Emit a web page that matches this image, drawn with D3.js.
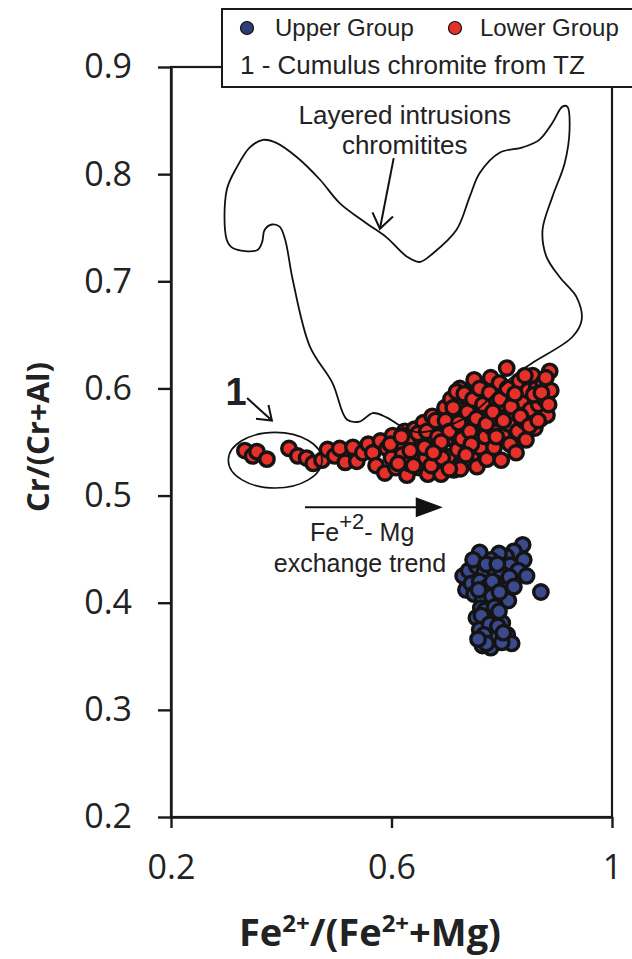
<!DOCTYPE html>
<html>
<head>
<meta charset="utf-8">
<script src="https://cdn.jsdelivr.net/npm/d3@7"></script>
<style>
  body { margin: 0; background: #fff; }
  svg { display: block; }
</style>
</head>
<body>
<div id="chart"></div>
<script>
// Lower Group (red) chromite analyses: [Fe2+/(Fe2++Mg), Cr/(Cr+Al)]
var lowerGroup = [
  [0.334,0.542],[0.348,0.537],[0.356,0.541],[0.374,0.534],
  [0.414,0.544],[0.430,0.537],[0.446,0.535],[0.458,0.530],[0.474,0.533],[0.484,0.543],
  [0.497,0.537],[0.506,0.544],[0.516,0.531],[0.530,0.545],[0.537,0.532],[0.548,0.540],
  [0.558,0.548],[0.566,0.540],[0.572,0.528],[0.580,0.551],
  [0.588,0.521],[0.592,0.544],[0.600,0.535],[0.602,0.556],[0.608,0.526],[0.615,0.547],
  [0.620,0.538],[0.624,0.560],[0.628,0.519],[0.632,0.530],[0.636,0.550],[0.642,0.562],
  [0.645,0.540],[0.650,0.526],[0.654,0.553],[0.658,0.568],[0.662,0.535],[0.666,0.520],
  [0.670,0.548],[0.674,0.574],[0.678,0.560],[0.682,0.530],[0.686,0.543],[0.690,0.520],
  [0.694,0.566],[0.697,0.582],[0.700,0.553],[0.703,0.536],
  [0.708,0.590],[0.710,0.572],[0.713,0.524],[0.716,0.558],[0.720,0.543],[0.724,0.600],
  [0.727,0.580],[0.730,0.530],[0.733,0.565],[0.736,0.550],[0.740,0.590],[0.743,0.574],
  [0.746,0.538],[0.750,0.608],[0.752,0.558],[0.755,0.527],[0.758,0.583],[0.761,0.545],
  [0.764,0.568],[0.768,0.597],[0.770,0.555],[0.773,0.534],[0.776,0.580],[0.780,0.610],
  [0.783,0.563],[0.786,0.545],[0.789,0.590],[0.792,0.572],[0.796,0.605],[0.799,0.533],
  [0.802,0.556],[0.806,0.585],[0.809,0.619],[0.812,0.567],[0.815,0.548],[0.818,0.598],
  [0.822,0.578],[0.826,0.540],[0.829,0.560],[0.832,0.607],[0.836,0.588],[0.840,0.570],
  [0.844,0.552],[0.848,0.598],[0.852,0.580],[0.856,0.612],[0.860,0.563],[0.863,0.600],
  [0.867,0.585],[0.871,0.572],[0.875,0.605],[0.878,0.590],[0.882,0.575],[0.887,0.616],
  [0.889,0.598],
  [0.598,0.548],[0.612,0.530],[0.618,0.555],[0.634,0.542],[0.640,0.528],[0.648,0.558],
  [0.660,0.545],[0.664,0.560],[0.672,0.528],[0.680,0.570],[0.684,0.555],[0.692,0.535],
  [0.698,0.570],[0.705,0.560],[0.712,0.582],[0.718,0.597],[0.722,0.568],[0.728,0.553],
  [0.732,0.595],[0.738,0.578],[0.742,0.560],[0.748,0.590],[0.754,0.572],[0.760,0.600],
  [0.766,0.585],[0.772,0.567],[0.778,0.596],[0.784,0.578],[0.790,0.555],[0.797,0.590],
  [0.803,0.570],[0.810,0.600],[0.817,0.583],[0.824,0.595],[0.834,0.574],[0.842,0.612],
  [0.850,0.565],[0.858,0.594],[0.866,0.570],[0.872,0.596],[0.880,0.610],[0.885,0.585],
  [0.745,0.548],[0.735,0.538],[0.725,0.525],[0.705,0.525],[0.690,0.550],[0.676,0.540]
];

// Upper Group (blue) chromite analyses
var upperGroup = [
  [0.838,0.454],[0.822,0.448],[0.808,0.443],[0.795,0.446],[0.780,0.440],[0.760,0.447],
  [0.840,0.440],[0.815,0.435],[0.830,0.430],[0.845,0.425],[0.730,0.425],[0.740,0.430],
  [0.755,0.434],[0.768,0.428],[0.785,0.432],[0.800,0.427],[0.814,0.424],[0.735,0.412],
  [0.745,0.418],[0.760,0.420],[0.775,0.415],[0.790,0.418],[0.805,0.412],[0.822,0.415],
  [0.750,0.408],[0.765,0.404],[0.782,0.406],[0.798,0.400],[0.812,0.402],[0.871,0.410],
  [0.762,0.395],[0.778,0.392],[0.792,0.388],[0.754,0.386],[0.770,0.382],[0.801,0.381],
  [0.785,0.375],[0.760,0.375],[0.775,0.368],[0.791,0.368],[0.810,0.370],[0.818,0.362],
  [0.765,0.360],[0.780,0.358],[0.800,0.363],
  [0.748,0.440],[0.772,0.436],[0.792,0.436],[0.758,0.412],[0.783,0.420],[0.796,0.410],
  [0.770,0.393],[0.787,0.396],[0.763,0.388],[0.795,0.392],[0.778,0.380],[0.793,0.378],
  [0.768,0.370],[0.803,0.372],[0.772,0.362],[0.757,0.366]
];

// outline of the layered-intrusion chromitite field
var layeredField = [
  [0.452,0.639],[0.421,0.701],[0.407,0.739],[0.397,0.751],[0.383,0.753],[0.370,0.748],
  [0.365,0.736],[0.356,0.729],[0.312,0.731],[0.301,0.739],[0.301,0.785],[0.320,0.807],
  [0.343,0.825],[0.367,0.832],[0.392,0.829],[0.428,0.816],[0.470,0.795],[0.506,0.773],
  [0.555,0.754],[0.591,0.741],[0.628,0.723],[0.651,0.718],[0.675,0.726],[0.718,0.748],
  [0.742,0.779],[0.760,0.801],[0.796,0.820],[0.838,0.825],[0.868,0.832],[0.892,0.848],
  [0.910,0.863],[0.919,0.863],[0.923,0.841],[0.914,0.810],[0.892,0.779],[0.874,0.748],
  [0.881,0.723],[0.905,0.704],[0.936,0.685],[0.945,0.664],[0.928,0.648],[0.856,0.624],
  [0.820,0.611],[0.736,0.573],[0.651,0.559],[0.620,0.564],[0.591,0.573],[0.566,0.577],
  [0.542,0.569],[0.519,0.571],[0.493,0.605]
];

var xTicks = [0.2, 0.6, 1];
var yTicks = [0.2, 0.3, 0.4, 0.5, 0.6, 0.7, 0.8, 0.9];

var W = 632, H = 959;
var svg = d3.select("#chart").append("svg").attr("width", W).attr("height", H);
svg.append("rect").attr("width", W).attr("height", H).attr("fill", "#fff");

// scales
var x = d3.scaleLinear().domain([0.2, 1]).range([171, 612]);
var y = d3.scaleLinear().domain([0.2, 0.9]).range([817, 67]);

var tickFont = "'Open Sans', sans-serif";
var textFont = "'Liberation Sans', Arial, sans-serif";

// plot frame (right and top sides)
svg.append("rect")
  .attr("x", x(0.2)).attr("y", y(0.9))
  .attr("width", x(1) - x(0.2)).attr("height", y(0.2) - y(0.9))
  .attr("fill", "none").attr("stroke", "#1a1a1a").attr("stroke-width", 2.2);

// axes
var yAxis = d3.axisLeft(y).tickValues(yTicks).tickFormat(d3.format(".1f"))
  .tickSize(13).tickSizeOuter(0).tickPadding(26);
var xAxis = d3.axisBottom(x).tickValues(xTicks).tickFormat(d3.format("~g"))
  .tickSize(11).tickSizeOuter(0).tickPadding(27);

var gy = svg.append("g").attr("transform", "translate(" + x(0.2) + ",0)").call(yAxis);
var gx = svg.append("g").attr("transform", "translate(0," + y(0.2) + ")").call(xAxis);
[gx, gy].forEach(function (g) {
  g.select(".domain").attr("stroke", "#1a1a1a").attr("stroke-width", 2.4);
  g.selectAll(".tick line").attr("stroke", "#1a1a1a").attr("stroke-width", 2.4);
  g.selectAll(".tick text").attr("fill", "#222").style("font-family", tickFont).style("font-size", "34px");
});

// axis titles
svg.append("text")
  .attr("transform", "translate(49,437) rotate(-90)")
  .attr("text-anchor", "middle")
  .style("font-family", tickFont).style("font-size", "31px").style("font-weight", "bold")
  .attr("fill", "#222")
  .text("Cr/(Cr+Al)");

var xt = svg.append("text")
  .attr("x", 370).attr("y", 946)
  .attr("text-anchor", "middle")
  .style("font-family", tickFont).style("font-size", "38px").style("font-weight", "bold")
  .attr("fill", "#222");
xt.append("tspan").text("Fe");
xt.append("tspan").attr("dy", -14).style("font-size", "24px").text("2+");
xt.append("tspan").attr("dy", 14).text("/(Fe");
xt.append("tspan").attr("dy", -14).style("font-size", "24px").text("2+");
xt.append("tspan").attr("dy", 14).text("+Mg)");

// data points
function drawPoints(data, fill) {
  svg.append("g").selectAll("circle")
    .data(data)
    .enter()
    .append("circle")
    .attr("cx", function (d) { return x(d[0]); })
    .attr("cy", function (d) { return y(d[1]); })
    .attr("r", 7.2)
    .attr("fill", fill)
    .attr("stroke", "#141414")
    .attr("stroke-width", 3.4);
}
drawPoints(upperGroup, "#3a4a8c");
drawPoints(lowerGroup, "#e8302a");

// layered intrusion field
var fieldLine = d3.line()
  .x(function (d) { return x(d[0]); })
  .y(function (d) { return y(d[1]); })
  .curve(d3.curveCatmullRomClosed.alpha(0.5));
svg.append("path")
  .attr("d", fieldLine(layeredField))
  .attr("fill", "none").attr("stroke", "#111").attr("stroke-width", 1.8);

// annotations
var ann = svg.append("g").attr("fill", "#222").style("font-family", textFont);

ann.append("text").attr("x", x(0.624)).attr("y", y(0.847)).attr("text-anchor", "middle")
  .style("font-size", "26px").text("Layered intrusions");
ann.append("text").attr("x", x(0.624)).attr("y", y(0.819)).attr("text-anchor", "middle")
  .style("font-size", "26px").text("chromitites");

function openArrow(x1, y1, x2, y2, head) {
  var a = Math.atan2(y2 - y1, x2 - x1);
  var g = svg.append("g").attr("stroke", "#111").attr("stroke-width", 2).attr("fill", "none");
  g.append("line").attr("x1", x1).attr("y1", y1).attr("x2", x2).attr("y2", y2);
  g.append("path").attr("d",
    "M" + (x2 - head * Math.cos(a - 0.62)) + "," + (y2 - head * Math.sin(a - 0.62)) +
    "L" + x2 + "," + y2 +
    "L" + (x2 - head * Math.cos(a + 0.62)) + "," + (y2 - head * Math.sin(a + 0.62)));
}
openArrow(x(0.604), y(0.815), x(0.579), y(0.749), 18);

// group 1 marker
ann.append("text").attr("x", x(0.318)).attr("y", y(0.585)).attr("text-anchor", "middle")
  .style("font-size", "38px").style("font-weight", "bold").text("1");
openArrow(x(0.338), y(0.591), x(0.383), y(0.570), 16);
svg.append("ellipse")
  .attr("cx", x(0.389)).attr("cy", y(0.533))
  .attr("rx", x(0.389 + 0.085) - x(0.389)).attr("ry", y(0.533) - y(0.559))
  .attr("fill", "none").attr("stroke", "#111").attr("stroke-width", 1.6);

// Fe-Mg exchange trend arrow
var ax1 = x(0.443), ax2 = x(0.693), ay = y(0.489);
svg.append("line").attr("x1", ax1).attr("y1", ay).attr("x2", ax2 - 20).attr("y2", ay)
  .attr("stroke", "#111").attr("stroke-width", 2);
svg.append("path")
  .attr("d", "M" + ax2 + "," + ay + "L" + (ax2 - 27) + "," + (ay - 10) + "L" + (ax2 - 27) + "," + (ay + 10) + "Z")
  .attr("fill", "#111");
var fe = ann.append("text").attr("x", 310).attr("y", 541).style("font-size", "25px");
fe.append("tspan").text("Fe");
fe.append("tspan").attr("dy", -12).style("font-size", "22px").text("+2");
fe.append("tspan").attr("dy", 12).text("- Mg");
ann.append("text").attr("x", 360).attr("y", 572).attr("text-anchor", "middle")
  .style("font-size", "25px").text("exchange trend");

// legend
var leg = svg.append("g");
leg.append("rect").attr("x", 222).attr("y", 9).attr("width", 430).attr("height", 78)
  .attr("fill", "#fff").attr("stroke", "#1a1a1a").attr("stroke-width", 2);
leg.append("circle").attr("cx", 247).attr("cy", 28).attr("r", 6.5)
  .attr("fill", "#2e3d78").attr("stroke", "#111").attr("stroke-width", 1.2);
leg.append("text").attr("x", 275).attr("y", 36).style("font-family", textFont)
  .style("font-size", "24px").attr("fill", "#222").text("Upper Group");
leg.append("circle").attr("cx", 455).attr("cy", 28).attr("r", 6.5)
  .attr("fill", "#e8302a").attr("stroke", "#111").attr("stroke-width", 1.2);
leg.append("text").attr("x", 480).attr("y", 36).style("font-family", textFont)
  .style("font-size", "24px").attr("fill", "#222").text("Lower Group");
leg.append("text").attr("x", 240).attr("y", 74).style("font-family", textFont)
  .style("font-size", "26px").attr("fill", "#222").text("1 - Cumulus chromite from TZ");
</script>
</body>
</html>
